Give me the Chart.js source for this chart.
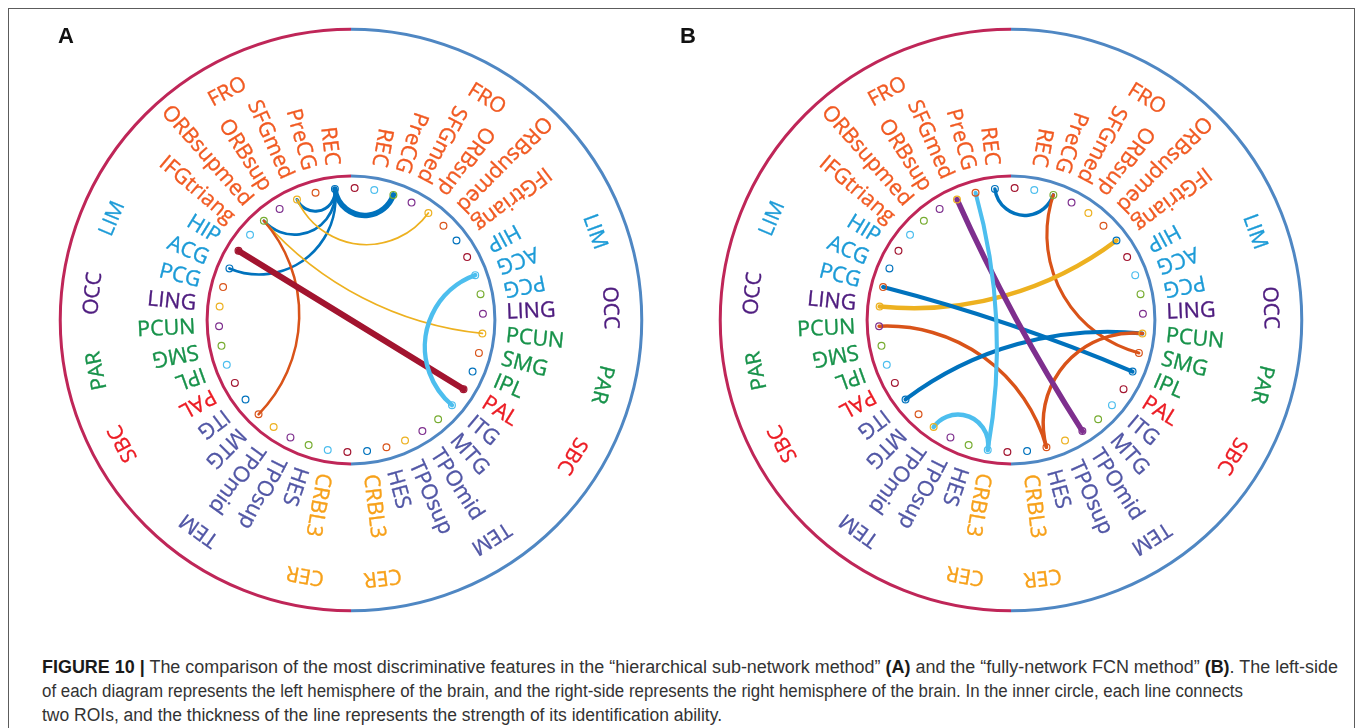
<!DOCTYPE html>
<html>
<head>
<meta charset="utf-8">
<script src="https://cdn.jsdelivr.net/npm/chart.js@4/dist/chart.umd.min.js"></script>
<style>
  html, body { margin: 0; padding: 0; background: #fff; width: 1360px; height: 728px; overflow: hidden; }
  #frame { position: absolute; left: 8px; top: 8px; width: 1347px; height: 760px; border: 1px solid #5c5c5c; box-sizing: border-box; }
  canvas.panel { position: absolute; top: 0; }
  .tag { position: absolute; font: bold 22px/22px "Liberation Sans", Arial, sans-serif; color: #111; }
  #caption { position: absolute; left: 42px; top: 655px; font: 18px/24px "Liberation Sans", Arial, sans-serif; color: #333; white-space: nowrap; }
  #caption .line { display: block; transform-origin: 0 0; }
  #caption b { color: #1a1a1a; }
</style>
</head>
<body>
<div id="frame"></div>
<canvas id="chartA" class="panel" width="640" height="640" style="left:31px"></canvas>
<canvas id="chartB" class="panel" width="640" height="640" style="left:691px"></canvas>
<div class="tag" style="left:58px;top:25px">A</div>
<div class="tag" style="left:680px;top:25px">B</div>
<div id="caption">
  <span class="line" data-w="1296"><b>FIGURE 10 |</b> The comparison of the most discriminative features in the “hierarchical sub-network method” <b>(A)</b> and the “fully-network FCN method” <b>(B)</b>. The left-side</span>
  <span class="line" data-w="1201">of each diagram represents the left hemisphere of the brain, and the right-side represents the right hemisphere of the brain. In the inner circle, each line connects</span>
  <span class="line" data-w="680">two ROIs, and the thickness of the line represents the strength of its identification ability.</span>
</div>
<script>
// ---- ROIs (same list in each hemisphere, frontal pole first) ----
const roiNames = ['REC', 'PreCG', 'SFGmed', 'ORBsup', 'ORBsupmed', 'IFGtriang', 'HIP', 'ACG', 'PCG', 'LING',
                  'PCUN', 'SMG', 'IPL', 'PAL', 'ITG', 'MTG', 'TPOmid', 'TPOsup', 'HES', 'CRBL3'];
const roiLobes = ['FRO', 'FRO', 'FRO', 'FRO', 'FRO', 'FRO', 'LIM', 'LIM', 'LIM', 'OCC',
                  'PAR', 'PAR', 'PAR', 'SBC', 'TEM', 'TEM', 'TEM', 'TEM', 'TEM', 'CER'];
const lobeNames  = ['FRO', 'LIM', 'OCC', 'PAR', 'SBC', 'TEM', 'CER'];
const lobeColors = ['#f15a22', '#1c9bd7', '#4e1c7f', '#17924a', '#ec1c24', '#5156a5', '#f7a11a'];

// node colour cycle, clockwise from the top node
const nodeColors = ['#0072bd', '#a2142f', '#4dbeee', '#77ac30', '#7e2f8e', '#edb120', '#d95319'];

// ---- connections: [first ROI, second ROI]; the link takes the first ROI's node colour ----
const linksA = [
  ['REC.L', 'PreCG.R'], ['REC.L', 'SFGmed.L'], ['REC.L', 'ORBsupmed.L'], ['REC.L', 'ACG.L'],
  ['SFGmed.L', 'ORBsup.R'], ['PCUN.R', 'ORBsupmed.L'], ['MTG.L', 'ORBsupmed.L'],
  ['HIP.L', 'PAL.R'], ['ACG.R', 'ITG.R']
];
const strengthA = [0.92, 0.5, 0.45, 0.45, 0.3, 0.3, 0.42, 1.0, 0.75];

const linksB = [
  ['REC.L', 'PreCG.R'], ['SMG.R', 'PreCG.R'], ['LING.L', 'IFGtriang.R'], ['IPL.R', 'PCG.L'],
  ['HES.R', 'PCUN.L'], ['ITG.L', 'PCUN.R'], ['HES.R', 'PCUN.R'], ['TPOmid.R', 'SFGmed.L'],
  ['CRBL3.L', 'PreCG.L'], ['CRBL3.L', 'TPOmid.L']
];
const strengthB = [0.58, 0.52, 0.75, 0.68, 0.58, 0.68, 0.58, 0.9, 0.68, 0.75];

// ---- layout ----
const NODE_COUNT = 42;
const FIRST_NODE_DEG = -7;     // clockwise from 12 o'clock
const LABEL_TILT = 8;          // where radial labels flip reading direction
const UNIT_PX = 146;           // inner ring radius in pixels
const NODE_R = 134 / UNIT_PX;
const OUTER_R = 295 / UNIT_PX;
const ROI_LABEL_R = 158 / UNIT_PX;
const LOBE_LABEL_R = 263 / UNIT_PX;
const HALF_RANGE = 320 / UNIT_PX;
const LEFT_RING = '#bf2658';
const RIGHT_RING = '#4f87c3';
const ROI_FONT = '21.5px "Open Sans", "Noto Sans", sans-serif';
const LOBE_FONT = '21px "Open Sans", "Noto Sans", sans-serif';
const TEXT_WEIGHT_PX = 0.35;   // thin outline that darkens the glyphs a little
const DEG = Math.PI / 180;

// node ids, clockwise from the top: left REC, a spacer, right hemisphere, a spacer, rest of left hemisphere
const nodeIds = ['REC.L', '']
  .concat(roiNames.map(n => n + '.R'))
  .concat([''])
  .concat(roiNames.slice(1).reverse().map(n => n + '.L'));

const nodeDeg = i => FIRST_NODE_DEG + i * 360 / NODE_COUNT;
const nodePoints = nodeIds.map((id, i) => ({
  x: NODE_R * Math.sin(nodeDeg(i) * DEG),
  y: NODE_R * Math.cos(nodeDeg(i) * DEG)
}));
const nodeColorList = nodeIds.map((id, i) => nodeColors[i % nodeColors.length]);

function wrap180(a) { while (a > 180) a -= 360; while (a <= -180) a += 360; return a; }

function paintText(ctx, text, color) {
  ctx.fillStyle = color;
  ctx.strokeStyle = color;
  ctx.lineWidth = TEXT_WEIGHT_PX;
  ctx.fillText(text, 0, 0);
  ctx.strokeText(text, 0, 0);
}

const connectogram = {
  id: 'connectogram',
  beforeDatasetsDraw(chart, args, opts) {
    const { ctx } = chart;
    const sx = chart.scales.x, sy = chart.scales.y;
    const cx = sx.getPixelForValue(0), cy = sy.getPixelForValue(0);
    const unit = sx.getPixelForValue(1) - cx;
    ctx.save();
    // hemisphere rings
    [[OUTER_R, 3], [1, 3]].forEach(([r, w]) => {
      ctx.lineWidth = w;
      ctx.strokeStyle = LEFT_RING;
      ctx.beginPath(); ctx.arc(cx, cy, r * unit, Math.PI / 2, Math.PI * 1.5); ctx.stroke();
      ctx.strokeStyle = RIGHT_RING;
      ctx.beginPath(); ctx.arc(cx, cy, r * unit, -Math.PI / 2, Math.PI / 2); ctx.stroke();
    });
    // links: arcs orthogonal to the node circle
    ctx.lineCap = 'round';
    opts.links.forEach((pair, k) => {
      const i1 = nodeIds.indexOf(pair[0]), i2 = nodeIds.indexOf(pair[1]);
      const p1 = { x: sx.getPixelForValue(nodePoints[i1].x), y: sy.getPixelForValue(nodePoints[i1].y) };
      const p2 = { x: sx.getPixelForValue(nodePoints[i2].x), y: sy.getPixelForValue(nodePoints[i2].y) };
      const mx = (p1.x + p2.x) / 2 - cx, my = (p1.y + p2.y) / 2 - cy;
      const m = Math.hypot(mx, my);
      const rho = Math.hypot(p1.x - cx, p1.y - cy);
      ctx.strokeStyle = nodeColorList[i1];
      ctx.lineWidth = opts.strength[k] * 6;
      ctx.beginPath();
      if (m / rho < 0.03) {
        ctx.moveTo(p1.x, p1.y); ctx.lineTo(p2.x, p2.y);
      } else {
        const dist = rho * rho / m;
        const ox = cx + mx / m * dist, oy = cy + my / m * dist;
        const R = Math.hypot(p1.x - ox, p1.y - oy);
        const t1 = Math.atan2(p1.y - oy, p1.x - ox), t2 = Math.atan2(p2.y - oy, p2.x - ox);
        let d = t2 - t1;
        while (d > Math.PI) d -= 2 * Math.PI;
        while (d < -Math.PI) d += 2 * Math.PI;
        ctx.arc(ox, oy, R, t1, t2, d < 0);
      }
      ctx.stroke();
    });
    ctx.restore();
  },
  afterDatasetsDraw(chart) {
    const { ctx } = chart;
    const sx = chart.scales.x, sy = chart.scales.y;
    const cx = sx.getPixelForValue(0), cy = sy.getPixelForValue(0);
    const unit = sx.getPixelForValue(1) - cx;
    ctx.save();
    ctx.textBaseline = 'middle';
    // ROI names, radial
    ctx.font = ROI_FONT;
    nodeIds.forEach((id, i) => {
      if (!id) return;
      const name = id.split('.')[0];
      const lobe = roiLobes[roiNames.indexOf(name)];
      const a = nodeDeg(i);
      const upper = Math.abs(wrap180(a + LABEL_TILT)) < 90;
      ctx.save();
      ctx.translate(cx + ROI_LABEL_R * unit * Math.sin(a * DEG), cy - ROI_LABEL_R * unit * Math.cos(a * DEG));
      ctx.rotate((upper ? a + 90 : a - 90) * DEG);
      ctx.textAlign = upper ? 'right' : 'left';
      paintText(ctx, name, lobeColors[lobeNames.indexOf(lobe)]);
      ctx.restore();
    });
    // lobe names, tangential, centred on their ROIs
    ctx.font = LOBE_FONT;
    ['.L', '.R'].forEach(side => {
      lobeNames.forEach((lobe, li) => {
        const angles = [];
        nodeIds.forEach((id, i) => {
          if (id && id.endsWith(side) && roiLobes[roiNames.indexOf(id.split('.')[0])] === lobe) {
            angles.push(wrap180(nodeDeg(i)));
          }
        });
        const a = angles.reduce((s, v) => s + v, 0) / angles.length;
        ctx.save();
        ctx.translate(cx + LOBE_LABEL_R * unit * Math.sin(a * DEG), cy - LOBE_LABEL_R * unit * Math.cos(a * DEG));
        ctx.rotate(a * DEG);
        ctx.textAlign = 'center';
        paintText(ctx, lobe, lobeColors[li]);
        ctx.restore();
      });
    });
    ctx.restore();
  }
};

function drawPanel(canvasId, links, strength) {
  return new Chart(document.getElementById(canvasId), {
    type: 'scatter',
    data: {
      datasets: [{
        data: nodePoints,
        pointRadius: 3.4,
        pointHoverRadius: 3.4,
        pointBorderWidth: 1.2,
        pointBackgroundColor: 'rgba(0,0,0,0)',
        pointBorderColor: nodeColorList
      }]
    },
    options: {
      responsive: false,
      animation: false,
      devicePixelRatio: 1,
      events: [],
      layout: { padding: 0 },
      scales: {
        x: { type: 'linear', min: -HALF_RANGE, max: HALF_RANGE, display: false },
        y: { type: 'linear', min: -HALF_RANGE, max: HALF_RANGE, display: false }
      },
      plugins: {
        legend: { display: false },
        tooltip: { enabled: false },
        connectogram: { links: links, strength: strength }
      }
    },
    plugins: [connectogram]
  });
}

drawPanel('chartA', linksA, strengthA);
drawPanel('chartB', linksB, strengthB);

// each caption line is condensed to its set width
document.querySelectorAll('#caption .line').forEach(line => {
  line.style.display = 'inline-block';
  const w = line.getBoundingClientRect().width;
  line.style.display = 'block';
  line.style.transform = 'scaleX(' + (Number(line.dataset.w) / w) + ')';
});
</script>
</body>
</html>
